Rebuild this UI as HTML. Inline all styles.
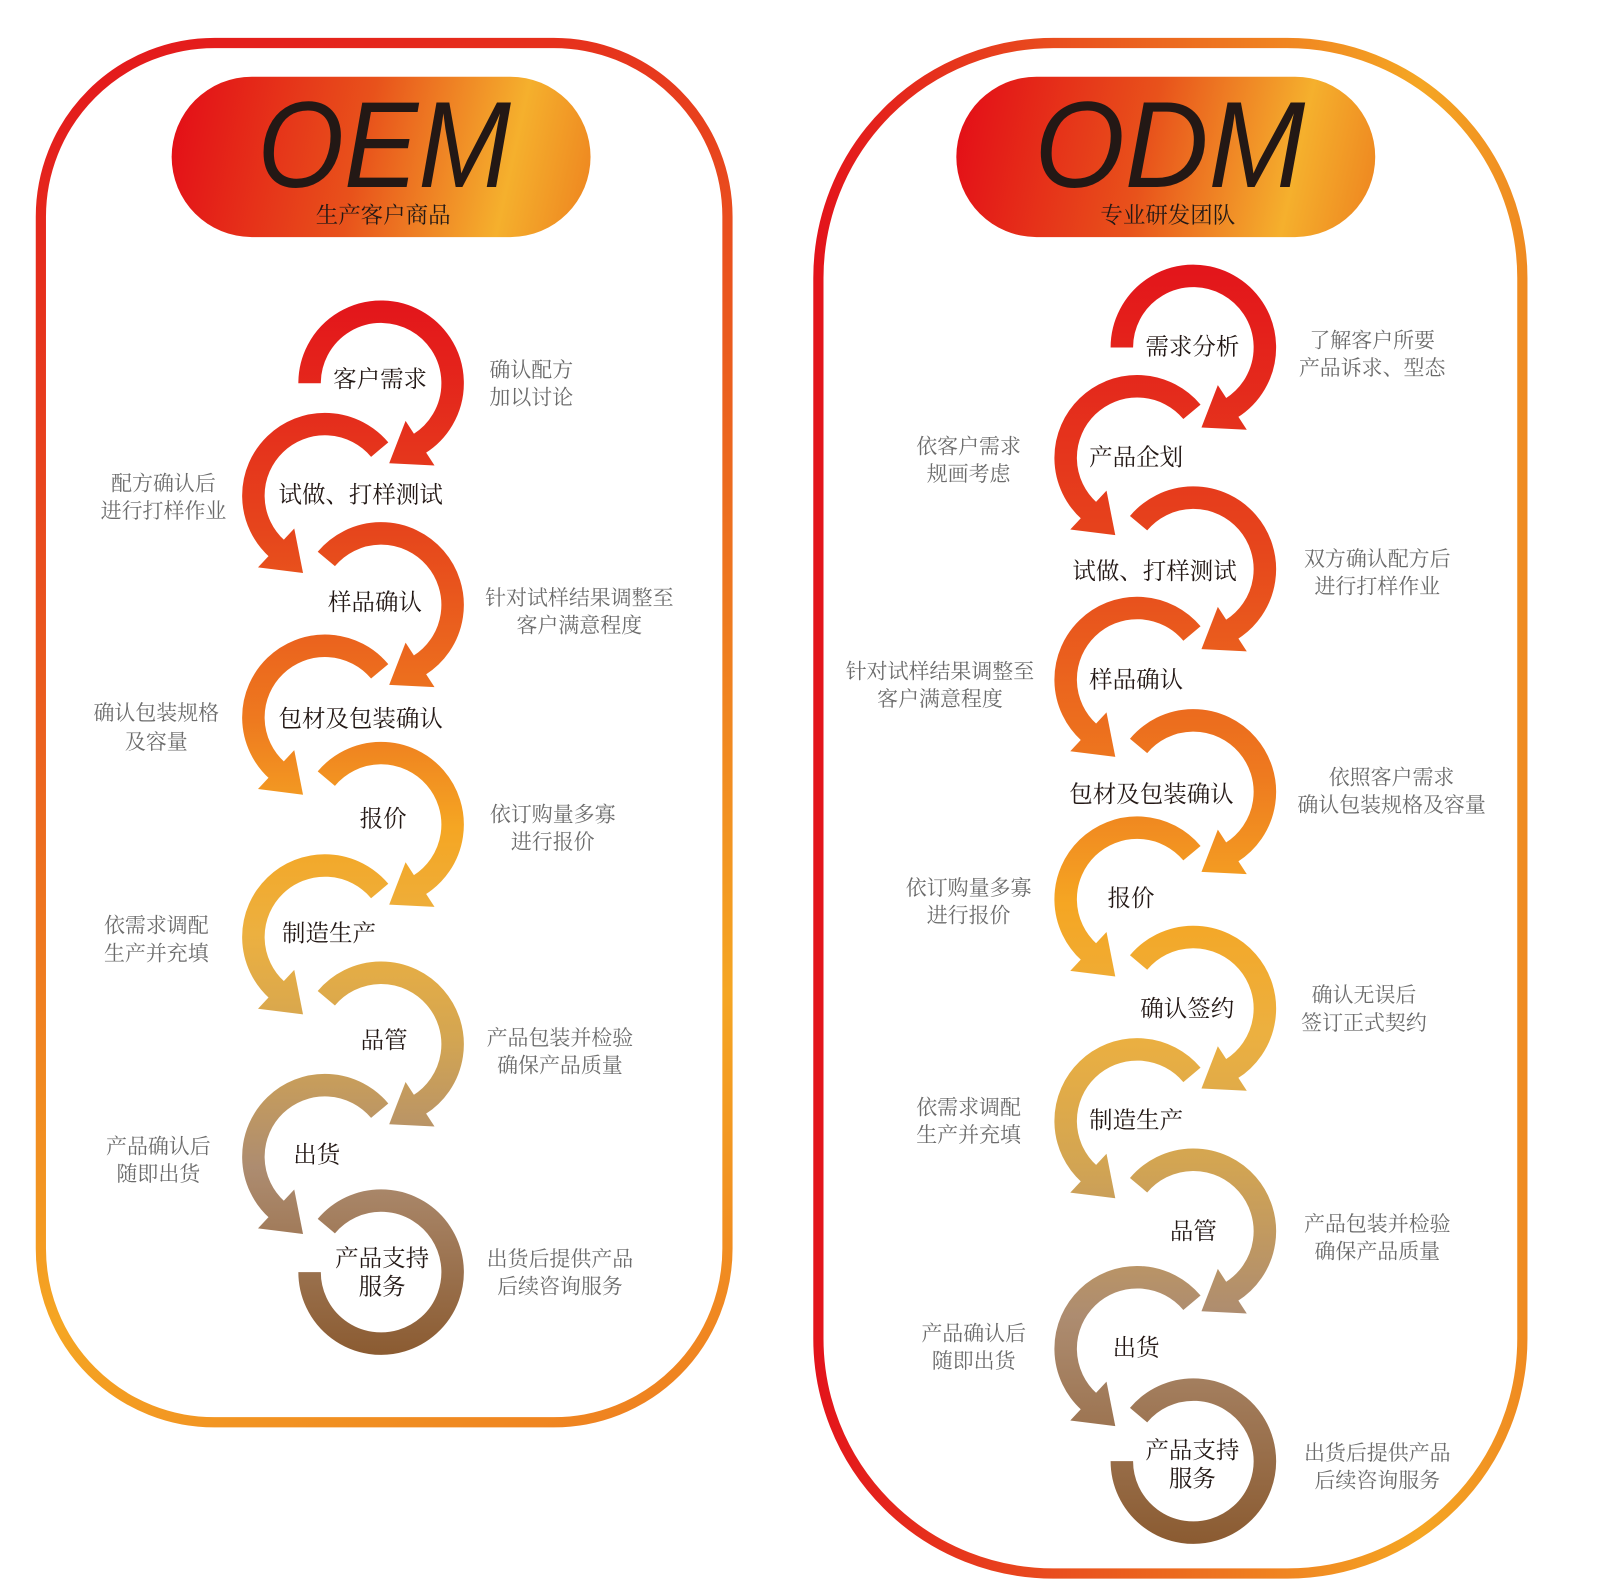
<!DOCTYPE html>
<html><head><meta charset="utf-8">
<style>
html,body{margin:0;padding:0;background:#fff;}
svg{display:block}
text{font-family:"Liberation Sans","Noto Sans CJK SC",sans-serif;}
.c{font-family:"Liberation Serif","Noto Serif CJK SC",serif;font-size:23px;fill:#231815;text-anchor:middle;dominant-baseline:central;}
.n{font-family:"Liberation Serif","Noto Serif CJK SC",serif;font-size:20.5px;fill:#6b6b6b;text-anchor:middle;dominant-baseline:central;}
</style></head>
<body>
<svg id="s" width="1600" height="1594" viewBox="0 0 1566 1560" xmlns="http://www.w3.org/2000/svg">
<defs>
<linearGradient id="frameL" x1="40" y1="42" x2="712" y2="1392" gradientUnits="userSpaceOnUse">
<stop offset="0" stop-color="#e3141b"/><stop offset="0.45" stop-color="#ec6a1f"/><stop offset="0.75" stop-color="#f5a623"/><stop offset="1" stop-color="#ee7d20"/></linearGradient>
<linearGradient id="frameR" x1="800" y1="0" x2="1495" y2="0" gradientUnits="userSpaceOnUse">
<stop offset="0" stop-color="#e3141b"/><stop offset="0.5" stop-color="#ec6a1f"/><stop offset="0.85" stop-color="#f5a623"/><stop offset="1" stop-color="#ef8a21"/></linearGradient>
<linearGradient id="pillL" x1="168" y1="110" x2="578" y2="200" gradientUnits="userSpaceOnUse">
<stop offset="0" stop-color="#e30e17"/><stop offset="0.45" stop-color="#e8521b"/><stop offset="0.8" stop-color="#f5b02d"/><stop offset="1" stop-color="#ee8620"/></linearGradient>
<linearGradient id="pillR" x1="936" y1="110" x2="1346" y2="200" gradientUnits="userSpaceOnUse">
<stop offset="0" stop-color="#e30e17"/><stop offset="0.45" stop-color="#e8521b"/><stop offset="0.8" stop-color="#f5b02d"/><stop offset="1" stop-color="#ee8620"/></linearGradient>
<linearGradient id="gL" x1="0" y1="290" x2="0" y2="1330" gradientUnits="userSpaceOnUse">
<stop offset="0" stop-color="#e3141b"/><stop offset="0.22" stop-color="#e6451c"/><stop offset="0.4" stop-color="#ee7a1f"/><stop offset="0.5" stop-color="#f5a623"/><stop offset="0.6" stop-color="#ecb040"/><stop offset="0.7" stop-color="#d3a552"/><stop offset="0.82" stop-color="#ad8c70"/><stop offset="1" stop-color="#8a5a30"/></linearGradient>
<linearGradient id="gR" x1="0" y1="255" x2="0" y2="1515" gradientUnits="userSpaceOnUse">
<stop offset="0" stop-color="#e3141b"/><stop offset="0.22" stop-color="#e6451c"/><stop offset="0.4" stop-color="#ee7a1f"/><stop offset="0.5" stop-color="#f5a623"/><stop offset="0.6" stop-color="#ecb040"/><stop offset="0.7" stop-color="#d3a552"/><stop offset="0.82" stop-color="#ad8c70"/><stop offset="1" stop-color="#8a5a30"/></linearGradient>
</defs>
<rect x="40" y="42" width="672" height="1350" rx="170" ry="170" fill="none" stroke="url(#frameL)" stroke-width="10"/>
<rect x="801" y="42" width="689" height="1498" rx="230" ry="230" fill="none" stroke="url(#frameR)" stroke-width="10"/>
<rect x="168" y="75" width="410" height="157" rx="78.5" fill="url(#pillL)"/>
<rect x="936" y="75" width="410" height="157" rx="78.5" fill="url(#pillR)"/>
<text x="376" y="183" font-size="120" font-style="italic" text-anchor="middle" fill="#231815" textLength="248" lengthAdjust="spacingAndGlyphs">OEM</text>
<text x="1145" y="183" font-size="120" font-style="italic" text-anchor="middle" fill="#231815" textLength="265" lengthAdjust="spacingAndGlyphs">ODM</text>
<text x="375" y="211" class="c" style="font-size:22px">生产客户商品</text>
<text x="1143" y="211" class="c" style="font-size:22px">专业研发团队</text>
<g id="arcs"></g>

<text class="c" x="372" y="372">客户需求</text>
<text class="c" x="353" y="485">试做、打样测试</text>
<text class="c" x="367" y="590">样品确认</text>
<text class="c" x="353" y="704">包材及包装确认</text>
<text class="c" x="375" y="802">报价</text>
<text class="c" x="322" y="914">制造生产</text>
<text class="c" x="376" y="1019">品管</text>
<text class="c" x="310" y="1131">出货</text>
<text class="c" x="374" y="1232">产品支持</text>
<text class="c" x="374" y="1260">服务</text>

<text class="n" x="520" y="362">确认配方</text><text class="n" x="520" y="389">加以讨论</text>
<text class="n" x="160" y="473">配方确认后</text><text class="n" x="160" y="500">进行打样作业</text>
<text class="n" x="567" y="585">针对试样结果调整至</text><text class="n" x="567" y="612">客户满意程度</text>
<text class="n" x="153" y="698">确认包装规格</text><text class="n" x="153" y="726">及容量</text>
<text class="n" x="541" y="797">依订购量多寡</text><text class="n" x="541" y="824">进行报价</text>
<text class="n" x="153" y="906">依需求调配</text><text class="n" x="153" y="933">生产并充填</text>
<text class="n" x="548" y="1016">产品包装并检验</text><text class="n" x="548" y="1043">确保产品质量</text>
<text class="n" x="155" y="1122">产品确认后</text><text class="n" x="155" y="1149">随即出货</text>
<text class="n" x="548" y="1232">出货后提供产品</text><text class="n" x="548" y="1259">后续咨询服务</text>

<text class="c" x="1167" y="340">需求分析</text>
<text class="c" x="1112" y="448">产品企划</text>
<text class="c" x="1130" y="560">试做、打样测试</text>
<text class="c" x="1112" y="666">样品确认</text>
<text class="c" x="1127" y="778">包材及包装确认</text>
<text class="c" x="1107" y="880">报价</text>
<text class="c" x="1162" y="988">确认签约</text>
<text class="c" x="1112" y="1097">制造生产</text>
<text class="c" x="1168" y="1206">品管</text>
<text class="c" x="1112" y="1320">出货</text>
<text class="c" x="1167" y="1420">产品支持</text>
<text class="c" x="1167" y="1448">服务</text>

<text class="n" x="1343" y="333">了解客户所要</text><text class="n" x="1343" y="360">产品诉求、型态</text>
<text class="n" x="948" y="437">依客户需求</text><text class="n" x="948" y="464">规画考虑</text>
<text class="n" x="1348" y="547">双方确认配方后</text><text class="n" x="1348" y="574">进行打样作业</text>
<text class="n" x="920" y="657">针对试样结果调整至</text><text class="n" x="920" y="684">客户满意程度</text>
<text class="n" x="1362" y="761">依照客户需求</text><text class="n" x="1362" y="788">确认包装规格及容量</text>
<text class="n" x="948" y="869">依订购量多寡</text><text class="n" x="948" y="896">进行报价</text>
<text class="n" x="1335" y="974">确认无误后</text><text class="n" x="1335" y="1001">签订正式契约</text>
<text class="n" x="948" y="1084">依需求调配</text><text class="n" x="948" y="1111">生产并充填</text>
<text class="n" x="1348" y="1198">产品包装并检验</text><text class="n" x="1348" y="1225">确保产品质量</text>
<text class="n" x="953" y="1305">产品确认后</text><text class="n" x="953" y="1332">随即出货</text>
<text class="n" x="1348" y="1422">出货后提供产品</text><text class="n" x="1348" y="1449">后续咨询服务</text>
</svg>
<script>
(function(){
var NS="http://www.w3.org/2000/svg",g=document.getElementById("arcs");
var R=70,W=22,HL=36,HW=26,D=Math.PI/180;
function pt(cx,cy,a,r){return [cx+r*Math.cos(a*D),cy+r*Math.sin(a*D)];}
function arc(cx,cy,a0,a1,cw,fill){
  var p0=pt(cx,cy,a0,R),p1=pt(cx,cy,a1,R);
  var sweep=Math.abs(a1-a0),large=sweep>180?1:0;
  var p=document.createElementNS(NS,"path");
  p.setAttribute("d","M"+p0[0]+" "+p0[1]+" A"+R+" "+R+" 0 "+large+" "+(cw?1:0)+" "+p1[0]+" "+p1[1]);
  p.setAttribute("fill","none");p.setAttribute("stroke",fill);p.setAttribute("stroke-width",W);
  g.appendChild(p);
}
function head(cx,cy,a,cw,fill){
  var b=pt(cx,cy,a,R),s=a*D;
  var t=cw?[-Math.sin(s),Math.cos(s)]:[Math.sin(s),-Math.cos(s)];
  var n=[Math.cos(s),Math.sin(s)];
  var q=document.createElementNS(NS,"polygon");
  var pts=[[b[0]+n[0]*HW,b[1]+n[1]*HW],[b[0]-n[0]*HW,b[1]-n[1]*HW],[b[0]+t[0]*HL,b[1]+t[1]*HL]];
  q.setAttribute("points",pts.map(function(p){return p[0]+","+p[1];}).join(" "));
  q.setAttribute("fill",fill);g.appendChild(q);
}
function column(xr,xl,ys,fill){
  ys.forEach(function(y,i){
    var last=i==ys.length-1,right=(i%2==0);
    if(right){
      var a0=(i==0)?180:220;
      if(last){arc(xr,y,220,540,true,fill);}
      else{arc(xr,y,a0,418,true,fill);head(xr,y,417,true,fill);}
    }else{
      arc(xl,y,-40,-228,false,fill);head(xl,y,-227,false,fill);
    }
  });
}
column(373,318,[375,485,592,702,807,917,1022,1132,1245],"url(#gL)");
column(1168,1113,[340,448,557,665,775,880,987,1097,1205,1320,1430],"url(#gR)");
})();
</script>
</body></html>
